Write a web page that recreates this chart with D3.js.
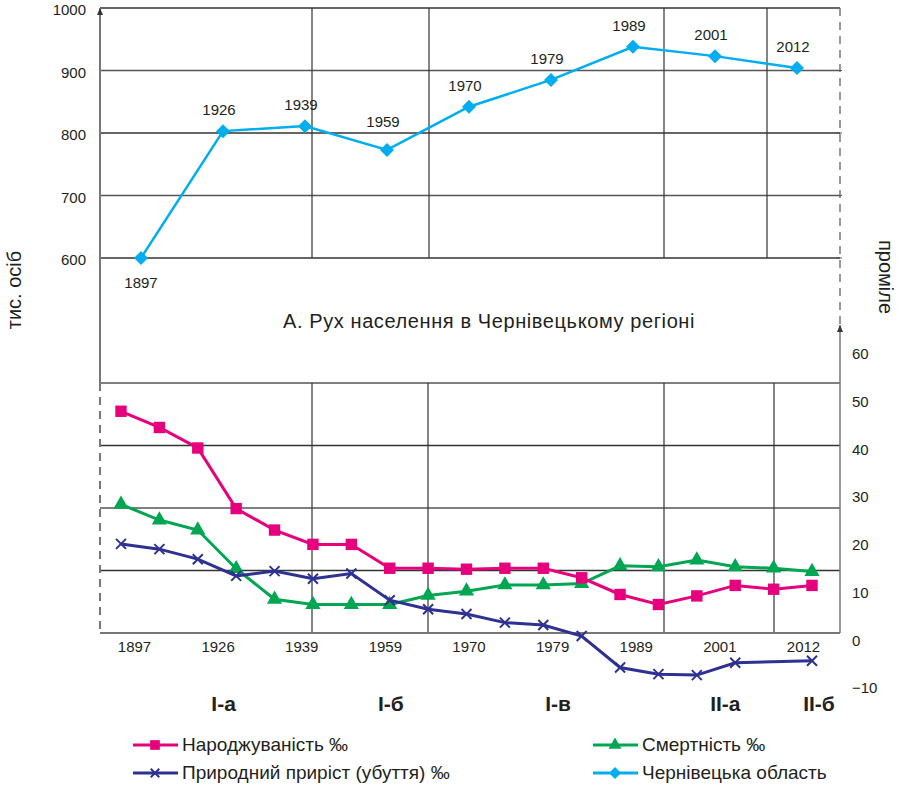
<!DOCTYPE html>
<html>
<head>
<meta charset="utf-8">
<script src="https://cdn.jsdelivr.net/npm/d3@7"></script>
<style>
  body { margin: 0; background: #fff; }
  text { font-family: "Liberation Sans", Arial, sans-serif; fill: #231f20; }
</style>
</head>
<body>
<div id="chart"></div>
<script>
// population (top) and vital rates (bottom) for Chernivtsi region

// data
var years = ["1897", "1926", "1939", "1959", "1970", "1979", "1989", "2001", "2012"];
var population = [600, 803, 811, 773, 842, 885, 938, 923, 904];
var popTicks = [600, 700, 800, 900, 1000];
var popGrid = [100, 200, 300, 400, 600, 700, 800, 900, 1000];

var birthRate = [48.0, 44.6, 40.3, 27.6, 23.1, 20.1, 20.1, 15.1, 15.1, 14.9, 15.1, 15.1, 13.1, 9.6, 7.5, 9.3, 11.5, 10.7, 11.5];
var deathRate = [28.5, 25.2, 23.1, 15.0, 8.6, 7.5, 7.5, 7.5, 9.4, 10.3, 11.6, 11.6, 11.9, 15.6, 15.4, 16.8, 15.4, 15.1, 14.4];
var naturalGrowth = [20.2, 19.1, 17.0, 13.5, 14.5, 12.9, 14.0, 8.4, 6.5, 5.5, 3.7, 3.2, 0.9, -5.7, -7.1, -7.3, -4.7, null, -4.3];
var rateTicks = [-10, 0, 10, 20, 30, 40, 50, 60];

var periods = ["І-а", "І-б", "І-в", "ІІ-а", "ІІ-б"];
var periodYears = ["1926", "1959", "1979", "2001", "2012"];

var title = "А. Рух населення в Чернівецькому регіоні";
var legendNames = ["Народжуваність ‰", "Смертність ‰", "Природний приріст (убуття) ‰", "Чернівецька область"];

// colours
var cBirth = "#e6007e", cDeath = "#00a651", cGrowth = "#2e3192", cPop = "#00aeef";

// layout
var width = 903, height = 786;
var left = 100, right = 840;
var topGridX = [312, 429, 664, 767];
var botGridX = [312, 428, 664, 774];

var svg = d3.select("#chart").append("svg")
    .attr("width", width)
    .attr("height", height);

// scales
var popY = d3.scaleLinear().domain([0, 1000]).range([633, 8]);
var rateY = d3.scaleLinear().domain([-10, 60]).range([688, 354]);
var topX = d3.scalePoint().domain(years).range([141, 797]);
var yearX = d3.scalePoint().domain(years).range([134, 803]);
var idxX = d3.scalePoint().domain(d3.range(birthRate.length)).range([121, 812]);

var grid = svg.append("g");

// horizontal grid
grid.selectAll(".hgrid")
    .data(popGrid)
    .enter()
    .append("line")
    .attr("x1", left).attr("x2", right)
    .attr("y1", function (d) { return popY(d); })
    .attr("y2", function (d) { return popY(d); })
    .attr("stroke", function (d, i) { return i % 2 ? "#555" : "#333"; })
    .attr("stroke-width", 1.3);

// vertical grid, top and bottom panels
topGridX.forEach(function (x) {
    grid.append("line")
        .attr("x1", x).attr("x2", x)
        .attr("y1", popY(1000)).attr("y2", popY(600))
        .attr("stroke", "#333").attr("stroke-width", 1.2);
});
botGridX.forEach(function (x) {
    grid.append("line")
        .attr("x1", x).attr("x2", x)
        .attr("y1", popY(400)).attr("y2", popY(0))
        .attr("stroke", "#333").attr("stroke-width", 1.2);
});

// axes lines
var axisCol = "#777";
svg.append("line").attr("x1", left).attr("x2", left)
    .attr("y1", popY(1000)).attr("y2", popY(400))
    .attr("stroke", axisCol).attr("stroke-width", 2);
svg.append("line").attr("x1", left).attr("x2", left)
    .attr("y1", popY(400)).attr("y2", popY(0))
    .attr("stroke", axisCol).attr("stroke-width", 2)
    .attr("stroke-dasharray", "8,6");
svg.append("line").attr("x1", right).attr("x2", right)
    .attr("y1", popY(1000)).attr("y2", 325)
    .attr("stroke", axisCol).attr("stroke-width", 1.5)
    .attr("stroke-dasharray", "8,6");
svg.append("line").attr("x1", right).attr("x2", right)
    .attr("y1", 325).attr("y2", popY(0))
    .attr("stroke", axisCol).attr("stroke-width", 1.5);
svg.append("line").attr("x1", left).attr("x2", right)
    .attr("y1", popY(0)).attr("y2", popY(0))
    .attr("stroke", axisCol).attr("stroke-width", 2);

// arrow heads
function arrow(x, y) {
    svg.append("path")
        .attr("d", "M" + x + "," + y + "L" + (x - 3) + "," + (y + 7) + "L" + (x + 3) + "," + (y + 7) + "Z")
        .attr("fill", "#333");
}
arrow(left, popY(1000));
arrow(right, 325);

// small ticks on the dashed right line
svg.selectAll(".rtick")
    .data([600, 700, 800, 900])
    .enter()
    .append("line")
    .attr("x1", right - 4).attr("x2", right + 2)
    .attr("y1", function (d) { return popY(d); })
    .attr("y2", function (d) { return popY(d); })
    .attr("stroke", "#555");

var tickFont = "15px";

// left axis labels
svg.append("g")
    .attr("transform", "translate(" + left + ",0)")
    .call(d3.axisLeft(popY).tickValues(popTicks).tickSize(0).tickPadding(14)
        .tickFormat(d3.format("d")))
    .call(function (g) { g.select(".domain").remove(); })
    .selectAll("text")
    .attr("dy", "0.45em")
    .style("font-size", tickFont)
    .style("font-family", "Liberation Sans, Arial, sans-serif")
    .attr("fill", "#231f20");

// right axis labels
svg.append("g")
    .attr("transform", "translate(" + right + ",0)")
    .call(d3.axisRight(rateY).tickValues(rateTicks).tickSize(0).tickPadding(12)
        .tickFormat(function (d) { return d < 0 ? "\u2212" + Math.abs(d) : d; }))
    .call(function (g) { g.select(".domain").remove(); })
    .selectAll("text")
    .style("font-size", tickFont)
    .style("font-family", "Liberation Sans, Arial, sans-serif")
    .attr("fill", "#231f20");

// bottom year labels
svg.append("g")
    .attr("transform", "translate(0," + popY(0) + ")")
    .call(d3.axisBottom(yearX).tickSize(0).tickPadding(8))
    .call(function (g) { g.select(".domain").remove(); })
    .selectAll("text")
    .style("font-size", tickFont)
    .style("font-family", "Liberation Sans, Arial, sans-serif")
    .attr("fill", "#231f20");

// axis titles
svg.append("text")
    .attr("transform", "translate(21,290) rotate(-90)")
    .style("text-anchor", "middle")
    .style("font-size", "20px")
    .text("тис. осіб");
svg.append("text")
    .attr("transform", "translate(879,277) rotate(90)")
    .style("text-anchor", "middle")
    .style("font-size", "20px")
    .text("проміле");

svg.append("text")
    .attr("x", 489).attr("y", 328)
    .style("text-anchor", "middle")
    .style("font-size", "20px")
    .style("letter-spacing", "0.6px")
    .text(title);

// markers
function marker(g, kind, color, scale) {
    var k = scale || 1;
    if (kind === "x") {
        var a = 5 * k;
        g.append("path")
            .attr("d", "M" + (-a) + "," + (-a) + "L" + a + "," + a + "M" + (-a) + "," + a + "L" + a + "," + (-a))
            .attr("stroke", color).attr("stroke-width", 2).attr("fill", "none");
    } else if (kind === "diamond") {
        var r = 7 * k;
        g.append("path")
            .attr("d", "M0," + (-r) + "L" + r + ",0L0," + r + "L" + (-r) + ",0Z")
            .attr("fill", color);
    } else {
        var type = kind === "square" ? d3.symbolSquare : d3.symbolTriangle;
        var size = (kind === "square" ? 130 : 100) * k * k;
        g.append("path")
            .attr("d", d3.symbol().type(type).size(size)())
            .attr("fill", color);
    }
}

// bottom series
var series = [
    { values: deathRate, color: cDeath, kind: "triangle" },
    { values: naturalGrowth, color: cGrowth, kind: "x" },
    { values: birthRate, color: cBirth, kind: "square" }
];
series.forEach(function (s) {
    var pts = s.values.map(function (v, i) { return { i: i, v: v }; })
        .filter(function (d) { return d.v !== null; });
    svg.append("path")
        .datum(pts)
        .attr("fill", "none")
        .attr("stroke", s.color)
        .attr("stroke-width", 3)
        .attr("d", d3.line()
            .x(function (d) { return idxX(d.i); })
            .y(function (d) { return rateY(d.v); }));
    pts.forEach(function (d) {
        var g = svg.append("g")
            .attr("transform", "translate(" + idxX(d.i) + "," + rateY(d.v) + ")");
        marker(g, s.kind, s.color);
    });
});

// top series
var popPts = years.map(function (y, i) { return { year: y, v: population[i] }; });
svg.append("path")
    .datum(popPts)
    .attr("fill", "none")
    .attr("stroke", cPop)
    .attr("stroke-width", 2.5)
    .attr("d", d3.line()
        .x(function (d) { return topX(d.year); })
        .y(function (d) { return popY(d.v); }));
popPts.forEach(function (d, i) {
    var g = svg.append("g")
        .attr("transform", "translate(" + topX(d.year) + "," + popY(d.v) + ")");
    marker(g, "diamond", cPop);
    g.append("text")
        .attr("x", i === 0 ? 0 : -4)
        .attr("y", i === 0 ? 30 : (d.year === "1959" ? -23 : -16))
        .style("text-anchor", "middle")
        .style("font-size", tickFont)
        .text(d.year);
});

// period labels
svg.selectAll(".period")
    .data(periods)
    .enter()
    .append("text")
    .attr("x", function (d, i) { return yearX(periodYears[i]) + (i === 4 ? 16 : 6); })
    .attr("y", 711)
    .style("text-anchor", "middle")
    .style("font-size", "21px")
    .style("font-weight", "bold")
    .text(function (d) { return d; });

// legend
var legendItems = [
    { name: legendNames[0], color: cBirth, kind: "square", x: 133, y: 745 },
    { name: legendNames[1], color: cDeath, kind: "triangle", x: 593, y: 745 },
    { name: legendNames[2], color: cGrowth, kind: "x", x: 133, y: 773 },
    { name: legendNames[3], color: cPop, kind: "diamond", x: 593, y: 773 }
];
legendItems.forEach(function (d) {
    var g = svg.append("g").attr("transform", "translate(" + d.x + "," + d.y + ")");
    g.append("line").attr("x1", 0).attr("x2", 45)
        .attr("stroke", d.color).attr("stroke-width", 3);
    var m = g.append("g").attr("transform", "translate(22,0)");
    marker(m, d.kind, d.color, 0.85);
    g.append("text")
        .attr("x", 49).attr("y", 6)
        .style("font-size", "19px")
        .text(d.name);
});
</script>
</body>
</html>
